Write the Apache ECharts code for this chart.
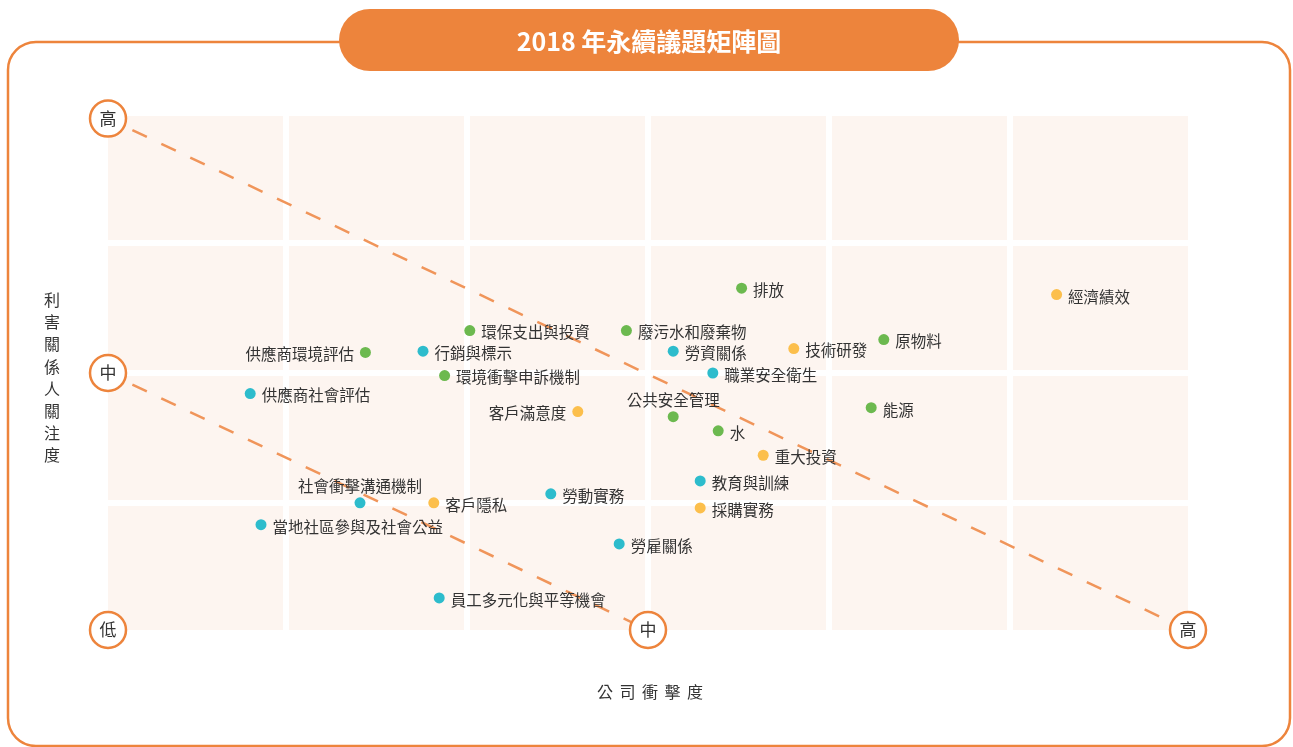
<!DOCTYPE html>
<html>
<head>
<meta charset="utf-8">
<title>2018 年永續議題矩陣圖</title>
<script src="https://cdn.jsdelivr.net/npm/echarts@6/dist/echarts.min.js"></script>
<style>
  html, body { margin: 0; padding: 0; background: #fff; }
  #chart { width: 1293px; height: 747px; }
</style>
</head>
<body>
<div id="chart"></div>
<script>
// issue data: company impact (x) and stakeholder concern (y)
const issueNames = [
  '排放', '環保支出與投資', '廢污水和廢棄物', '勞資關係', '技術研發',
  '職業安全衛生', '環境衝擊申訴機制', '客戶滿意度', '公共安全管理', '水',
  '重大投資', '教育與訓練', '採購實務', '勞動實務', '勞雇關係',
  '供應商環境評估', '行銷與標示', '供應商社會評估', '社會衝擊溝通機制', '客戶隱私',
  '當地社區參與及社會公益', '員工多元化與平等機會', '經濟績效', '原物料', '能源'
]
const issueImpact = [
  3.52, 2.01, 2.88, 3.14, 3.81,
  3.36, 1.87, 2.61, 3.14, 3.39,
  3.64, 3.29, 3.29, 2.46, 2.84,
  1.43, 1.75, 0.79, 1.40, 1.81,
  0.85, 1.84, 5.27, 4.31, 4.24
]
const issueConcern = [
  2.66, 2.33, 2.33, 2.17, 2.19,
  2.00, 1.98, 1.70, 1.66, 1.55,
  1.36, 1.16, 0.95, 1.06, 0.67,
  2.16, 2.17, 1.84, 0.99, 0.99,
  0.82, 0.25, 2.61, 2.26, 1.73
]
const issueGroup = [
  '環境', '環境', '環境', '社會', '經濟',
  '社會', '環境', '經濟', '環境', '環境',
  '經濟', '社會', '經濟', '社會', '社會',
  '環境', '社會', '社會', '社會', '經濟',
  '社會', '社會', '經濟', '環境', '環境'
]
const groups = ['環境', '社會', '經濟']

// axis levels drawn as circled markers
const xLevelValues = [0, 3, 6]
const xLevelLabels = ['低', '中', '高']
const yLevelValues = [2, 3.98]
const yLevelLabels = ['中', '高']

// dashed threshold lines
const upperLine = [[0, 3.98], [6, 0]]
const lowerLine = [[0, 2], [3, 0]]

const xTitle = '公司衝擊度'
const yTitle = '利害關係人關注度'
const chartTitle = '2018 年永續議題矩陣圖'

const groupColors = { '環境': '#6cb94f', '社會': '#2dbccc', '經濟': '#fcbf4c' }
const labelSide = { '客戶滿意度': 'left', '供應商環境評估': 'left', '公共安全管理': 'top', '社會衝擊溝通機制': 'top' }
const orange = '#ed843c'
const font = '"Noto Sans CJK TC", "Noto Sans", sans-serif'

const cells = []
for (let c = 0; c < 6; c++) {
  for (let r = 0; r < 4; r++) cells.push([c, r])
}

const chart = echarts.init(document.getElementById('chart'))

const groupSeries = groups.map(g => ({
  name: g,
  type: 'scatter',
  z: 4,
  clip: false,
  symbolSize: 11,
  itemStyle: { color: groupColors[g], opacity: 1 },
  data: issueNames
    .map((n, i) => ({ n, i }))
    .filter(d => issueGroup[d.i] === g)
    .map(d => {
      const side = labelSide[d.n] || 'right'
      return {
        name: d.n,
        value: [issueImpact[d.i], issueConcern[d.i]],
        label: {
          show: true,
          position: side,
          distance: side === 'top' ? 3 : 6,
          offset: side === 'top' ? [0, 0] : [0, 2],
          formatter: '{b}',
          color: '#333',
          fontSize: 15.5,
          fontFamily: font
        }
      }
    })
}))

function levelSeries(points) {
  return {
    type: 'scatter',
    z: 5,
    clip: false,
    silent: true,
    symbolSize: 36,
    itemStyle: { color: '#fff', borderColor: orange, borderWidth: 2.5, opacity: 1 },
    label: {
      show: true,
      position: 'inside',
      formatter: p => p.data[2],
      color: '#333',
      fontSize: 17,
      fontFamily: font
    },
    data: points
  }
}

function dashedLine(data) {
  return {
    type: 'line',
    z: 3,
    silent: true,
    symbol: 'none',
    data,
    lineStyle: { color: '#f0955a', width: 2.5, type: [16, 16], dashOffset: 5 }
  }
}

const titleChars = yTitle.split('').map((ch, i) => ({
  type: 'text',
  x: 52,
  y: 300 + i * 22.2,
  style: { text: ch, fill: '#333', font: '16px ' + font, align: 'center', verticalAlign: 'middle' }
}))
const xTitleChars = xTitle.split('').map((ch, i) => ({
  type: 'text',
  x: 605 + i * 22.5,
  y: 692,
  style: { text: ch, fill: '#333', font: '16px ' + font, align: 'center', verticalAlign: 'middle' }
}))

chart.setOption({
  animation: false,
  grid: { left: 108, top: 116, width: 1080, height: 514 },
  xAxis: {
    type: 'value', min: 0, max: 6,
    axisLine: { show: false }, axisTick: { show: false }, axisLabel: { show: false }, splitLine: { show: false }
  },
  yAxis: {
    type: 'value', min: 0, max: 4,
    axisLine: { show: false }, axisTick: { show: false }, axisLabel: { show: false }, splitLine: { show: false }
  },
  graphic: [
    {
      type: 'rect', z: 0,
      shape: { x: 8, y: 42, width: 1282, height: 704, r: 28 },
      style: { fill: 'none', stroke: orange, lineWidth: 2.5 }
    },
    {
      type: 'rect', z: 1,
      shape: { x: 339, y: 9, width: 620, height: 62, r: 31 },
      style: { fill: orange }
    },
    {
      type: 'text', z: 2, x: 649, y: 41,
      style: { text: chartTitle, fill: '#fff', font: 'bold 25px ' + font, align: 'center', verticalAlign: 'middle' }
    },
    ...titleChars,
    ...xTitleChars
  ],
  series: [
    {
      type: 'custom',
      z: 1,
      silent: true,
      data: cells,
      renderItem(params, api) {
        const cs = params.coordSys
        const gap = 6
        const w = (cs.width - 5 * gap) / 6
        const h = (cs.height - 3 * gap) / 4
        const c = api.value(0)
        const r = api.value(1)
        return {
          type: 'rect',
          shape: { x: cs.x + c * (w + gap), y: cs.y + r * (h + gap), width: w, height: h },
          style: { fill: '#fdf5f0' }
        }
      }
    },
    dashedLine(upperLine),
    dashedLine(lowerLine),
    ...groupSeries,
    levelSeries(xLevelValues.map((v, i) => [v, 0, xLevelLabels[i]])),
    levelSeries(yLevelValues.map((v, i) => [0, v, yLevelLabels[i]]))
  ]
})
</script>
</body>
</html>
